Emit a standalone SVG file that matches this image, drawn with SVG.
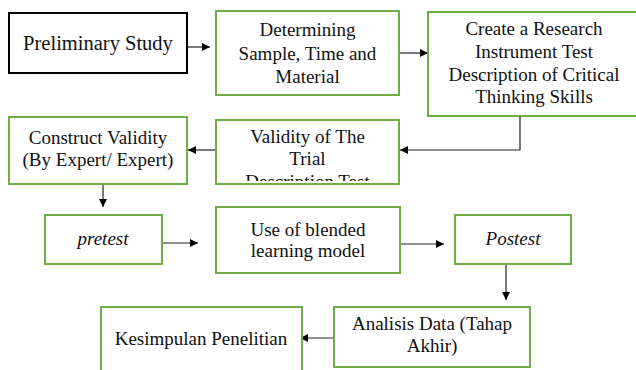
<svg xmlns="http://www.w3.org/2000/svg" width="636" height="370" viewBox="0 0 636 370">
<style>
.g{fill:#fff;stroke:#70AD47;stroke-width:2}
.b{fill:#fff;stroke:#000;stroke-width:2}
text{font-size:19px;fill:#111;text-anchor:middle}
text.big{font-size:20.5px}
.i{font-style:italic}
.c{fill:none;stroke:#222;stroke-width:1.2}
</style>
<defs>
<marker id="ah" viewBox="0 0 10 10" refX="10" refY="5" markerWidth="8" markerHeight="8" markerUnits="userSpaceOnUse" orient="auto">
<path d="M0,0 L10,5 L0,10 Z" fill="#000"/>
</marker>
<clipPath id="vclip"><rect x="216" y="120" width="183" height="61"/></clipPath>
</defs>
<rect width="636" height="370" fill="#fff"/>
<g id="connectors">
<line class="c" x1="187" y1="47" x2="210" y2="47" marker-end="url(#ah)"/>
<line class="c" x1="399" y1="53" x2="428" y2="53" marker-end="url(#ah)"/>
<polyline class="c" points="520,116 520,150 400,150" marker-end="url(#ah)"/>
<line class="c" x1="218" y1="150" x2="188" y2="150" marker-end="url(#ah)"/>
<line class="c" x1="103" y1="184" x2="103" y2="207" marker-end="url(#ah)"/>
<line class="c" x1="162" y1="243" x2="198" y2="243" marker-end="url(#ah)"/>
<line class="c" x1="400" y1="244" x2="444" y2="244" marker-end="url(#ah)"/>
<line class="c" x1="506" y1="264" x2="506" y2="300" marker-end="url(#ah)"/>
<line class="c" x1="334" y1="338" x2="300" y2="338" marker-end="url(#ah)"/>
</g>
<g font-family="'Liberation Serif', 'Times New Roman', 'DejaVu Serif', serif">
<g id="preliminary">
<rect class="b" x="9" y="13" width="178" height="60"/>
<text class="big" x="98" y="50">Preliminary Study</text>
</g>
<g id="determining">
<rect class="g" x="216" y="11" width="183" height="84"/>
<text x="307.5" y="36">Determining</text>
<text x="307.5" y="60">Sample, Time and</text>
<text x="307.5" y="83">Material</text>
</g>
<g id="create">
<rect class="g" x="428" y="12" width="212" height="104"/>
<text x="534" y="35">Create a Research</text>
<text x="534" y="58">Instrument Test</text>
<text x="534" y="81">Description of Critical</text>
<text x="534" y="103">Thinking Skills</text>
</g>
<g id="construct">
<rect class="g" x="9" y="117" width="178" height="67"/>
<text x="98" y="144">Construct Validity</text>
<text x="98" y="166">(By Expert/ Expert)</text>
</g>
<g id="validity">
<rect class="g" x="216" y="120" width="183" height="64"/>
<g clip-path="url(#vclip)">
<text x="307.5" y="143">Validity of The</text>
<text x="307.5" y="165">Trial</text>
<text x="307.5" y="188">Description Test</text>
</g>
</g>
<g id="pretest">
<rect class="g" x="45" y="215" width="117" height="49"/>
<text class="i" x="103" y="245">pretest</text>
</g>
<g id="blended">
<rect class="g" x="216" y="207" width="184" height="66"/>
<text x="308" y="236">Use of blended</text>
<text x="308" y="257">learning model</text>
</g>
<g id="postest">
<rect class="g" x="455" y="215" width="116" height="49"/>
<text class="i" x="513" y="245">Postest</text>
</g>
<g id="analisis">
<rect class="g" x="334" y="307" width="196" height="60"/>
<text x="432" y="330">Analisis Data (Tahap</text>
<text x="432" y="352">Akhir)</text>
</g>
<g id="kesimpulan">
<rect class="g" x="101" y="307" width="201" height="70"/>
<text x="201" y="345">Kesimpulan Penelitian</text>
</g>
</g>
</svg>
